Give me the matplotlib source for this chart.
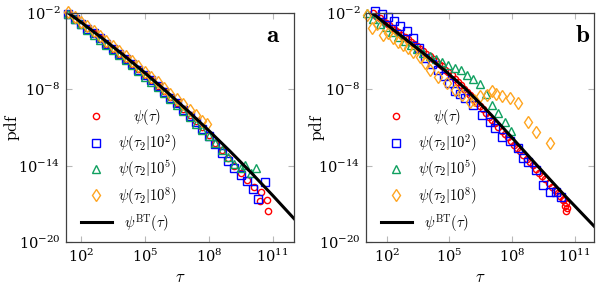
import numpy as np
import matplotlib
matplotlib.use('Agg')
import matplotlib.pyplot as plt

plt.rcParams['mathtext.fontset'] = 'cm'
plt.rcParams['font.family'] = 'serif'
plt.rcParams['font.serif'] = ['DejaVu Serif']

# all values are log10(tau) and log10(pdf)

# panel a
a_bt_x = [1.4, 2, 3, 4, 5, 6, 7, 8, 9, 10, 11, 12]
a_bt_y = [-1.99, -2.72, -3.98, -5.31, -6.70, -8.15, -9.66, -11.24, -12.87, -14.57, -16.34, -18.16]

a_red_x = [1.4, 1.7, 2.0, 2.3, 2.6, 2.9, 3.2, 3.5, 3.8, 4.1, 4.4, 4.7, 5.0, 5.3, 5.6, 5.9, 6.2, 6.5, 6.8,
           7.1, 7.4, 7.7, 8.0, 8.3, 8.6, 8.9, 9.2, 9.5, 9.8, 10.1, 10.39, 10.47, 10.71, 10.78]
a_red_y = [-2.1, -2.45, -2.85, -3.2, -3.6, -4.0, -4.4, -4.8, -5.2, -5.6, -6.0, -6.4, -6.85, -7.3, -7.7, -8.15,
           -8.6, -9.1, -9.55, -10.0, -10.5, -11.0, -11.6, -12.2, -12.8, -13.4, -14.0, -14.6, -15.1, -15.7,
           -16.8, -16.05, -16.7, -17.6]

a_blue_x = [1.4, 1.7, 2.0, 2.3, 2.6, 2.9, 3.2, 3.5, 3.8, 4.1, 4.4, 4.7, 5.0, 5.3, 5.6, 5.9, 6.2, 6.5, 6.8,
            7.1, 7.4, 7.7, 8.0, 8.3, 8.6, 8.9, 9.2, 9.5, 9.8, 10.08, 10.31, 10.63]
a_blue_y = [-2.05, -2.45, -2.85, -3.25, -3.6, -4.0, -4.4, -4.8, -5.2, -5.6, -6.0, -6.45, -6.85, -7.3, -7.75,
            -8.2, -8.65, -9.1, -9.6, -10.1, -10.6, -11.1, -11.7, -12.3, -13.0, -13.6, -14.2, -14.7, -15.2,
            -15.8, -16.6, -15.3]

a_green_x = [1.4, 1.7, 2.0, 2.3, 2.6, 2.9, 3.2, 3.5, 3.8, 4.1, 4.4, 4.7, 5.0, 5.3, 5.6, 5.9, 6.2, 6.5, 6.8,
             7.1, 7.4, 7.7, 8.0, 8.3, 8.6, 8.9, 9.2, 9.5, 9.69, 10.0, 10.24]
a_green_y = [-2.1, -2.5, -2.9, -3.3, -3.7, -4.1, -4.5, -4.9, -5.3, -5.7, -6.1, -6.55, -7.0, -7.4, -7.85,
             -8.3, -8.75, -9.2, -9.7, -10.2, -10.7, -11.2, -11.7, -12.2, -12.8, -13.3, -13.9, -14.2, -13.95,
             -14.6, -14.2]

a_orange_x = [1.4, 1.7, 2.0, 2.3, 2.6, 2.9, 3.2, 3.5, 3.8, 4.1, 4.4, 4.7, 5.0, 5.3, 5.6, 5.9, 6.2, 6.5,
              6.8, 7.1, 7.4, 7.7, 7.9]
a_orange_y = [-1.95, -2.30, -2.68, -3.06, -3.45, -3.83, -4.20, -4.60, -5.00, -5.40, -5.80, -6.20, -6.62,
              -7.05, -7.45, -7.88, -8.35, -8.75, -9.15, -9.60, -10.05, -10.50, -10.75]

# panel b
b_bt_x = [1.1, 2.5, 3.7, 4.8, 5.8, 7.0, 8.0, 9.1, 10.5, 11.93]
b_bt_y = [-1.76, -3.55, -5.1, -6.55, -8.0, -10.0, -11.8, -13.8, -16.3, -18.75]

b_red_x = [1.35, 1.65, 1.95, 2.25, 2.55, 2.85, 3.15, 3.45, 3.75, 4.05, 4.35, 4.65, 4.95, 5.25, 5.55, 5.85,
           6.15, 6.45, 6.75, 7.05, 7.35, 7.65, 7.95, 8.25, 8.55, 8.85, 9.15, 9.45, 9.75, 10.05,
           1.5, 1.8, 2.1, 2.4, 2.7, 3.0, 3.3, 3.6, 3.9, 4.2, 4.5, 4.8, 5.1, 5.4, 5.7, 6.0, 6.3, 6.6,
           6.9, 7.2, 7.5, 7.8, 8.1, 8.4, 8.7, 9.0, 9.3, 9.6, 9.9, 10.2,
           10.3, 10.45, 10.5, 10.6, 10.65, 10.6, 10.55]
b_red_y = [-2.0, -2.4, -2.8, -3.15, -3.5, -3.9, -4.25, -4.6, -5.0, -5.4, -5.8, -6.2, -6.65, -7.15, -7.65,
           -8.2, -8.75, -9.3, -9.85, -10.4, -10.95, -11.5, -12.05, -12.6, -13.15, -13.7, -14.25, -14.8,
           -15.35, -15.9,
           -2.2, -2.6, -2.95, -3.35, -3.7, -4.05, -4.45, -4.8, -5.2, -5.6, -6.0, -6.45, -6.9, -7.4, -7.95,
           -8.45, -9.05, -9.55, -10.15, -10.65, -11.25, -11.75, -12.35, -12.85, -13.45, -13.95, -14.55,
           -15.05, -15.65, -16.15,
           -16.4, -16.7, -16.6, -16.9, -17.3, -17.6, -17.2]

b_blue_x = [1.45, 1.75, 2.05, 2.35, 2.65, 2.95, 3.25, 3.55, 3.85, 4.15, 4.45, 4.75, 5.0, 5.26, 5.5, 5.74,
            6.14, 6.54, 6.94, 7.18, 7.5, 7.9, 8.29, 8.53, 8.77, 9.17, 9.49, 9.81, 10.1, 10.37]
b_blue_y = [-1.85, -2.05, -2.35, -2.65, -3.0, -3.4, -3.95, -4.75, -5.55, -6.0, -6.45, -6.95, -7.5, -8.17,
            -8.4, -8.69, -9.22, -10.0, -10.53, -11.06, -11.72, -12.1, -12.63, -13.42, -13.68, -14.34,
            -15.52, -16.04, -16.1, -16.44]

b_green_x = [1.05, 1.35, 1.65, 1.95, 2.25, 2.55, 2.85, 3.15, 3.45, 3.75, 4.05, 4.35, 4.65, 4.95, 5.25,
             5.55, 5.85, 6.15, 6.45, 6.75, 7.05, 7.35, 7.65, 7.95]
b_green_y = [-2.0, -2.5, -2.85, -3.1, -3.5, -3.85, -4.2, -4.55, -4.85, -5.15, -5.4, -5.6, -5.85, -6.1,
             -6.3, -6.5, -6.85, -7.2, -7.6, -8.4, -9.2, -9.85, -10.6, -11.3]

b_orange_x = [1.03, 1.27, 1.55, 1.82, 2.05, 2.30, 2.55, 2.78, 3.02, 3.26, 3.58, 3.82, 4.06, 4.46, 4.86,
              5.26, 5.58, 5.98, 6.2, 6.46, 6.79, 7.02, 7.25, 7.5, 7.89, 8.29, 8.77, 9.17, 9.81]
b_orange_y = [-2.13, -3.2, -2.9, -3.73, -3.6, -3.99, -4.3, -4.52, -4.75, -5.04, -5.44, -5.9, -6.48, -7.01,
              -7.53, -8.05, -8.45, -8.97, -8.8, -8.56, -8.43, -8.17, -8.4, -8.56, -8.69, -9.09, -10.53,
              -11.32, -12.24]

labels = [r'$\psi(\tau)$', r'$\psi(\tau_2|10^2)$', r'$\psi(\tau_2|10^5)$',
          r'$\psi(\tau_2|10^8)$', r'$\psi^{\mathrm{BT}}(\tau)$']
colors = ['#ff0000', '#0000ff', '#10a060', '#ffa520']
markers = ['o', 's', '^', 'd']
msizes = [4.5, 5.5, 6.0, 6.0]

panels = [
    dict(series=[(a_red_x, a_red_y), (a_blue_x, a_blue_y), (a_green_x, a_green_y), (a_orange_x, a_orange_y)],
         bt=(a_bt_x, a_bt_y), xlim=(10**1.3, 1e12), tag=r'$\mathbf{a}$', tagx=0.94, ylab_x=-0.195,
         rect=[66 / 597, 48 / 290, 228 / 597, 229 / 290]),
    dict(series=[(b_red_x, b_red_y), (b_blue_x, b_blue_y), (b_green_x, b_green_y), (b_orange_x, b_orange_y)],
         bt=(b_bt_x, b_bt_y), xlim=(10**1.0, 10**11.93), tag=r'$\mathbf{b}$', tagx=0.982, ylab_x=-0.17,
         rect=[366 / 597, 48 / 290, 228 / 597, 229 / 290]),
]

fig = plt.figure(figsize=(5.97, 2.90), dpi=100)
fs = 10.5

legends = []
for p in panels:
    ax = fig.add_axes(p['rect'])
    for (x, y), c, m, s, lab in zip(p['series'], colors, markers, msizes, labels):
        ax.plot(10.0 ** np.array(x), 10.0 ** np.array(y), linestyle='none', marker=m, ms=s,
                mfc='none', mec=c, mew=1.0, label=lab, clip_on=False)
    bx, by = p['bt']
    ax.plot(10.0 ** np.array(bx), 10.0 ** np.array(by), color='black', lw=2.2, label=labels[4])

    ax.set_xscale('log')
    ax.set_yscale('log')
    ax.set_xlim(*p['xlim'])
    ax.set_ylim(1e-20, 1e-2)
    ax.set_xticks([1e2, 1e5, 1e8, 1e11])
    ax.set_yticks([1e-20, 1e-14, 1e-8, 1e-2])
    ax.minorticks_off()
    ax.tick_params(which='both', direction='in', top=True, right=True, length=4, width=0.8,
                   color='#b8b8b8', labelsize=fs, pad=4)
    for sp in ax.spines.values():
        sp.set_color('#404040')
        sp.set_linewidth(0.9)
    ax.set_xlabel(r'$\tau$', fontsize=fs + 1.5, labelpad=3)
    ax.set_ylabel(r'$\mathrm{pdf}$', fontsize=12.5)
    ax.yaxis.set_label_coords(p['ylab_x'], 0.5)
    ax.text(p['tagx'], 0.90, p['tag'], transform=ax.transAxes, ha='right', va='center', fontsize=18)

    leg = ax.legend(loc='lower left', bbox_to_anchor=(0.066, 0.037), frameon=False, fontsize=fs,
                    numpoints=1, handlelength=2.1, handletextpad=0.4, labelspacing=0.33,
                    borderpad=0, borderaxespad=0)
    legends.append(leg)

# center the legend texts on one another
fig.canvas.draw()
r = fig.canvas.get_renderer()
for leg in legends:
    texts = leg.get_texts()
    widths = [t.get_window_extent(r).width for t in texts]
    wmax = max(widths)
    for t, w in zip(texts, widths):
        t.set_position(((wmax - w) / 2, 0))

fig.savefig('out.png', dpi=100)
